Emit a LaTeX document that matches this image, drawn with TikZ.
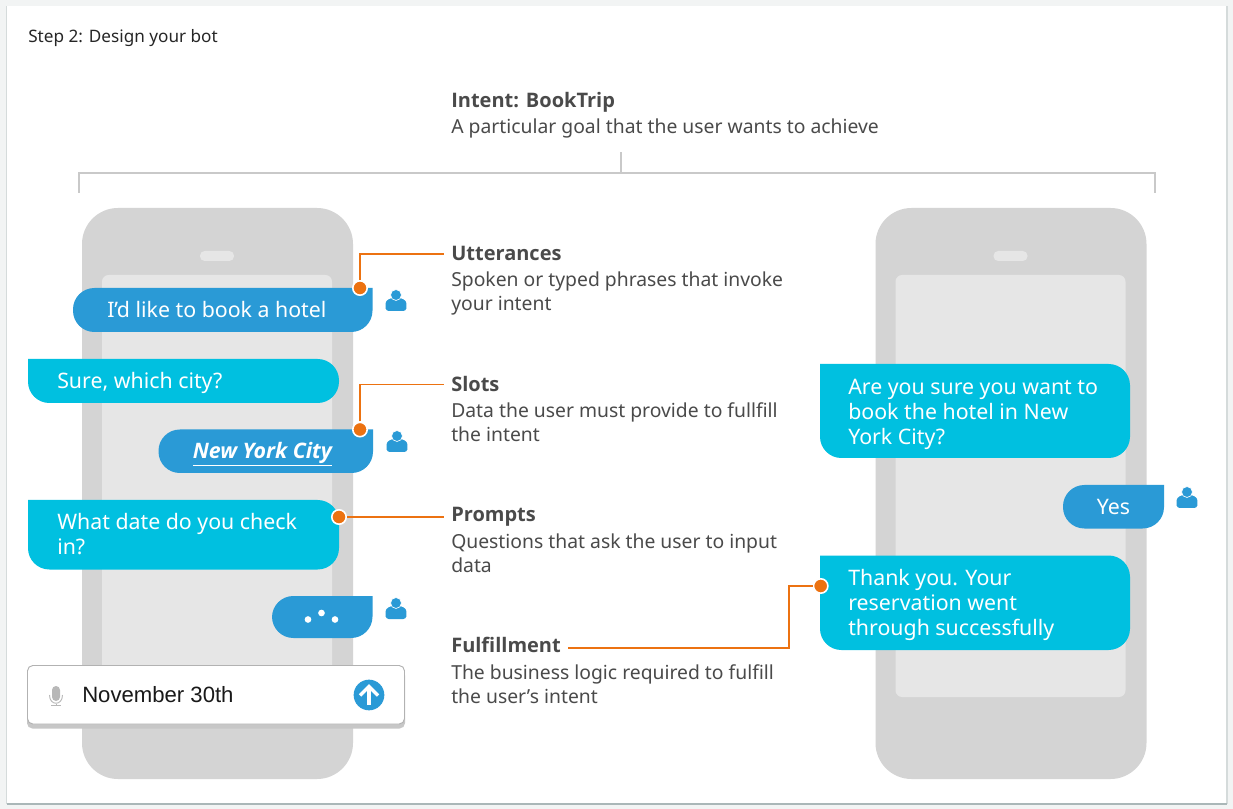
\documentclass[tikz,border=0pt]{standalone}
\usepackage{fontspec}
\setmainfont{Noto Sans}
\newfontfamily\helv{Liberation Sans}
\newfontfamily\boldfam{Open Sans}
\definecolor{pageback}{HTML}{F2F4F4}
\definecolor{pageedge}{HTML}{AAB7B8}
\definecolor{pageside}{HTML}{D5DBDB}
\definecolor{phone}{HTML}{D4D4D4}
\definecolor{screen}{HTML}{E6E6E6}
\definecolor{userblue}{HTML}{2A9AD6}
\definecolor{botcyan}{HTML}{00C0E0}
\definecolor{accent}{HTML}{EC7211}
\definecolor{bracket}{HTML}{C9C9C9}
\definecolor{ink}{HTML}{4A4A4A}
\tikzset{
  x=0.75pt,y=-0.75pt,
  title/.style={anchor=base west,inner ysep=0pt,inner xsep=5.25pt,font=\boldfam\bfseries\fontsize{15}{16}\selectfont,text=ink},
  desc/.style={anchor=base west,inner sep=0pt,font=\fontsize{14.5}{18}\selectfont,text=ink,align=left},
  btext/.style={anchor=base west,inner sep=0pt,font=\fontsize{16}{18.9}\selectfont,text=white,align=left},
  leader/.style={draw=accent,line width=1.4pt},
  knob/.style={circle,fill=accent,draw=white,line width=1.2pt,minimum size=10.8pt,inner sep=0pt},
}
\newcommand{\phonebody}[1]{%
  \fill[phone,rounded corners=27pt] (#1,208) rectangle ++(271,571);
  \fill[screen,rounded corners=5pt] (#1+20,275) rectangle ++(230,422);
  \fill[screen,rounded corners=3.5pt] (#1+118,251) rectangle ++(34,10);
}
\newcommand{\userbub}[4]{% x1 y1 x2 y2, square top right
  \fill[userblue] (#3,#2) [rounded corners=16pt] -- (#3,#4) -- (#1,#4) -- (#1,#2) [sharp corners] -- (#3,#2) -- cycle;
}
\newcommand{\botbub}[4]{% x1 y1 x2 y2, square top left
  \fill[botcyan] (#1,#2) [rounded corners=16pt] -- (#1,#4) -- (#3,#4) -- (#3,#2) [sharp corners] -- (#1,#2) -- cycle;
}
\newcommand{\person}[2]{%
  \fill[userblue,rounded corners=2.2pt] (#1-10.3,#2+11) -- (#1-10.3,#2+6) .. controls (#1-10.3,#2+0) and (#1-5,#2-2) .. (#1,#2-2) .. controls (#1+5,#2-2) and (#1+10.3,#2+0) .. (#1+10.3,#2+6) -- (#1+10.3,#2+11) -- cycle;
  \filldraw[fill=userblue,draw=white,line width=0.5pt] (#1,#2-5) circle (4.1pt);
}
\begin{document}
\begin{tikzpicture}
\useasboundingbox (0,0) rectangle (1233,809);
\fill[pageback] (0,0) rectangle (1233,809);
\fill[white] (6.5,6.5) rectangle (1227,804);
\draw[pageside,line width=0.8pt] (6.5,6.5) -- (6.5,804) (1227,6.5) -- (1227,804);
\draw[pageedge,line width=0.8pt] (6.5,804) -- (1227,804);
\node[anchor=base west,inner sep=0pt,font=\fontsize{12.87}{15}\selectfont,text=black!85] (steplabel) at (28,43) {Step 2: Design your bot};

% bracket
\draw[bracket,line width=1.5pt] (79,193) -- (79,173.5) -- (1155,173.5) -- (1155,193);
\draw[bracket,line width=1.2pt] (621,173.5) -- (621,152);

% phones
\phonebody{82}
\phonebody{875.5}

% intent
\node[title,inner xsep=0pt] (intent) at (451,107.5) {Intent: BookTrip};
\node[desc] (intentd) at (451,133.5) {A particular goal that the user wants to achieve};

% left bubbles
\userbub{73}{288}{372.5}{332}
\botbub{28}{359}{339}{403}
\userbub{158.5}{429.5}{373}{473}
\botbub{28}{500}{339}{569.5}
\userbub{272}{596}{372.5}{638}

\node[btext] (hotel) at (107,317.7) {I'd like to book a hotel};
\node[btext] (city) at (57,388.7) {Sure, which city?};
\node[btext,font=\boldfam\bfseries\itshape\fontsize{16}{19}\selectfont] (nyc) at (192.5,458.7) {\underline{New York City}};
\node[btext] (date) at (57,555) {What date do you check\\in?};
\fill[white] (308,619.5) circle (2.5pt) (321.5,613) circle (2.5pt) (335,619.5) circle (2.5pt);

\person{396}{300}
\person{397}{441}
\person{396}{608}
\person{1187}{497}

% input box
\fill[black!22,rounded corners=4pt] (27,670) rectangle (405,728.5);
\filldraw[fill=white,draw=black!30,line width=0.7pt,rounded corners=4pt] (27.5,665.5) rectangle (404.5,724);
\node[anchor=base west,inner sep=0pt,font=\helv\fontsize{16.6}{18}\selectfont,text=black!90] (nov) at (82,702.5) {November 30th};
\fill[black!28,rounded corners=3pt] (52,686) rectangle (60,701);
\draw[black!28,line width=0.7pt] (49.5,695) .. controls (49.5,706) and (62.5,706) .. (62.5,695);
\draw[black!28,line width=0.7pt] (56,704) -- (56,705.5) (51,705.5) -- (61,705.5);
\fill[userblue] (369,695) circle (11.5pt);
\draw[white,line width=2.6pt] (369,705) -- (369,687);
\draw[white,line width=2.6pt] (360,695.5) -- (369,686.5) -- (378,695.5);

% right bubbles
\botbub{820}{364}{1130}{458}
\userbub{1063}{485}{1164}{528.5}
\botbub{820}{555.5}{1130}{650}
\node[btext] (sure) at (848,444.5) {Are you sure you want to\\book the hotel in New\\York City?};
\node[btext] (yes) at (1096.5,514) {Yes};
\node[btext] (thanks) at (848,635.5) {Thank you. Your\\reservation went\\through successfully};

% labels
\node[title] (utt) at (444,261) {Utterances};
\node[desc] at (451,311) (uttd) {Spoken or typed phrases that invoke\\your intent};
\node[title] (slots) at (444,392) {Slots};
\node[desc] at (451,442) (slotsd) {Data the user must provide to fullfill\\the intent};
\node[title] (prompts) at (444,522) {Prompts};
\node[desc] at (451,572.5) (promptsd) {Questions that ask the user to input\\data};
\node[title] (ful) at (444,652) {Fulfillment};
\node[desc] at (451,703.5) (fuld) {The business logic required to fulfill\\the user’s intent};

% connectors
\node[knob] (k1) at (360,288) {};
\node[knob] (k2) at (360,429.5) {};
\node[knob] (k3) at (339,517) {};
\node[knob] (k4) at (820.7,586) {};
\coordinate (fbend) at (789,647.7);
\draw[leader] (k1) |- (utt.west);
\draw[leader] (k2) |- (slots.west);
\draw[leader] (k3) -- (k3 -| prompts.west);
\draw[leader] (fbend -| ful.east) -- (fbend) |- (k4);
\end{tikzpicture}
\end{document}
